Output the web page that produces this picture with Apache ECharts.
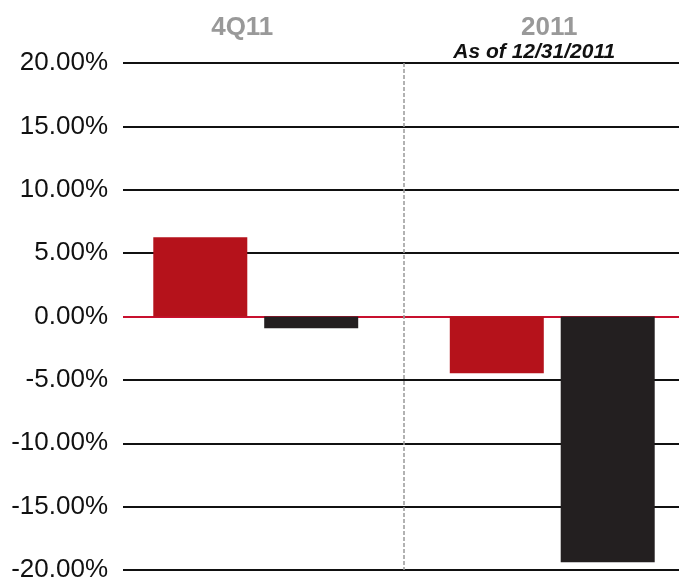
<!DOCTYPE html>
<html>
<head>
<meta charset="utf-8">
<script src="https://cdn.jsdelivr.net/npm/echarts@6/dist/echarts.min.js"></script>
<style>html,body{margin:0;padding:0;background:#fff}#c{width:679px;height:585px}</style>
</head>
<body>
<div id="c"></div>
<script>
var categories = ['4Q11', '2011'];
var subtitle = 'As of 12/31/2011';
var seriesRed = [6.26, -4.47];
var seriesBlack = [-0.93, -19.38];
var yTicks = [-20, -15, -10, -5, 0, 5, 10, 15, 20];

var chart = echarts.init(document.getElementById('c'), null, {renderer: 'canvas'});
var gridColors = yTicks.map(function (v) { return v === 0 ? '#c8102e' : '#111111'; });

chart.setOption({
  animation: false,
  grid: [
    {left: 123, width: 556, top: 63, height: 507, outerBoundsMode: 'none', containLabel: false},
    {left: 107.5, width: 593, top: 63, height: 507, outerBoundsMode: 'none', containLabel: false}
  ],
  xAxis: [
    {gridIndex: 0, type: 'value', show: false, min: 0, max: 1},
    {
      gridIndex: 1, type: 'category', position: 'top',
      data: [
        {value: categories[0], textStyle: {padding: [0, 27, 0, 0]}},
        {value: categories[1], textStyle: {padding: [0, 6, 0, 0]}}
      ],
      axisLine: {show: false}, axisTick: {show: false},
      axisLabel: {
        margin: 1,
        formatter: function (v, i) {
          return '{a|' + v + '}\n{b|' + (i === 1 ? subtitle : ' ') + '}';
        },
        rich: {
          a: {fontFamily: 'Liberation Sans', fontWeight: 'bold', fontSize: 26, color: '#999999', lineHeight: 28},
          b: {fontFamily: 'Liberation Sans', fontWeight: 'bold', fontStyle: 'italic', fontSize: 21, color: '#111111', lineHeight: 20, padding: [0, 30, 0, 0]}
        }
      },
      splitLine: {
        show: true,
        showMinLine: false,
        showMaxLine: false,
        lineStyle: {color: '#999999', width: 1.5, type: [4, 2]}
      }
    }
  ],
  yAxis: [
    {
      gridIndex: 0, type: 'value', min: -20, max: 20, interval: 5,
      axisLine: {show: false}, axisTick: {show: false},
      axisLabel: {
        margin: 15,
        fontFamily: 'Liberation Sans', fontSize: 26, color: '#111111',
        formatter: function (v) { return v.toFixed(2) + '%'; }
      },
      splitLine: {show: true, lineStyle: {color: gridColors, width: 2}}
    },
    {
      gridIndex: 1, type: 'value', min: -20, max: 20, interval: 5, show: false,
      splitLine: {show: false}
    }
  ],
  series: [
    {type: 'bar', xAxisIndex: 1, yAxisIndex: 1, data: seriesRed, barWidth: 94, barGap: '18%',
     itemStyle: {color: '#b5121b'}},
    {type: 'bar', xAxisIndex: 1, yAxisIndex: 1, data: seriesBlack, barWidth: 94, barGap: '18%',
     itemStyle: {color: '#231f20'}}
  ]
});
</script>
</body>
</html>
